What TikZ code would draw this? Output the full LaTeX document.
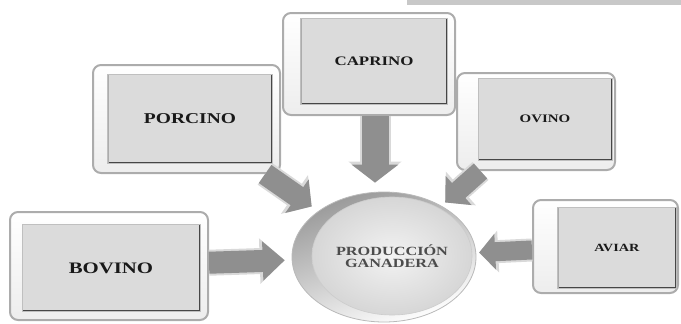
\documentclass[tikz,border=0pt]{standalone}
\usepackage{fontspec}
\newfontfamily\lbl[FakeStretch=1.3]{Liberation Serif}
\usetikzlibrary{shapes.geometric,arrows.meta}
\begin{document}
\begin{tikzpicture}[x=1pt,y=-1pt,
  frame/.style={draw=gray!65, line width=2pt, rounded corners=8pt,
    top color=white, bottom color=gray!14, inner sep=0pt},
  face/.style={draw=gray!50, line width=1pt, fill=gray!28, inner sep=0pt,
    text=black!90,
    path picture={\draw[line width=3pt, gray!55!black]
      (path picture bounding box.south west) --
      (path picture bounding box.south east) --
      (path picture bounding box.north east);
      \draw[line width=2pt, gray!65]
      (path picture bounding box.south west) --
      (path picture bounding box.north west);}},
  fat/.style n args={3}{draw=gray!88, line width=#1,
    -{Triangle[length=#3, width=#2]},
    preaction={draw=gray!30, line width=#1+4pt,
      -{Triangle[length=#3+3pt, width=#2+6pt]}}},
  ringout/.style={ellipse, inner sep=0pt, left color=gray!80, right color=white,
    shading angle=20, draw=gray!55, line width=0.8pt},
  ringin/.style={ellipse, inner sep=0pt, inner color=gray!10, outer color=gray!32,
    draw=gray!40, line width=0.6pt, text=black!70, align=center}
]
\useasboundingbox (0,0) rectangle (681,324);
\fill[gray!43] (407,0) rectangle (681,5);

% boxes
\node[frame, minimum width=198pt, minimum height=108pt] (bovinoF) at (109,266) {};
\node[face, minimum width=178pt, minimum height=87pt,
  font=\lbl\bfseries\fontsize{16}{16}\selectfont] (bovino) at (111,268) {BOVINO};

\node[frame, minimum width=187pt, minimum height=108pt] (porcinoF) at (186.5,119) {};
\node[face, minimum width=165pt, minimum height=89pt,
  font=\lbl\bfseries\fontsize{15}{15}\selectfont] (porcino) at (190,118.5) {PORCINO};

\node[frame, minimum width=172pt, minimum height=102pt] (caprinoF) at (369,64) {};
\node[face, minimum width=147pt, minimum height=86pt,
  font=\lbl\bfseries\fontsize{13}{13}\selectfont] (caprino) at (374,61) {CAPRINO};

\node[frame, minimum width=158pt, minimum height=97pt] (ovinoF) at (536,121.5) {};
\node[face, minimum width=134pt, minimum height=82pt,
  font=\lbl\bfseries\fontsize{11.5}{11.5}\selectfont] (ovino) at (545,119) {OVINO};

\node[frame, minimum width=145pt, minimum height=93pt] (aviarF) at (605.5,246.5) {};
\node[face, minimum width=119pt, minimum height=81pt,
  font=\lbl\bfseries\fontsize{11}{11}\selectfont] (aviar) at (617,247.5) {AVIAR};

% centre
\node[ringout, minimum width=184pt, minimum height=130pt] (prodF) at (384,257) {};
\node[ringin, minimum width=160pt, minimum height=118pt,
  font=\lbl\bfseries\fontsize{12.5}{12}\selectfont] (prod) at (392,256)
  {PRODUCCIÓN\\GANADERA};

% arrows
\draw[fat={22pt}{38pt}{22pt}, shorten >=7pt] (bovinoF) -- (prodF);
\draw[fat={22pt}{40pt}{18pt}, shorten >=8pt] (porcinoF) -- (prodF);
\draw[fat={27pt}{46pt}{18pt}, shorten >=9pt]
  ([xshift=6pt]caprinoF.south) -- ([xshift=6pt]caprinoF.south |- prodF.north);
\draw[fat={20pt}{38pt}{18pt}, shorten >=5pt] (ovinoF) -- (prodF);
\draw[fat={19pt}{35pt}{16pt}, shorten >=3pt] (aviarF) -- (prodF);
\end{tikzpicture}
\end{document}
